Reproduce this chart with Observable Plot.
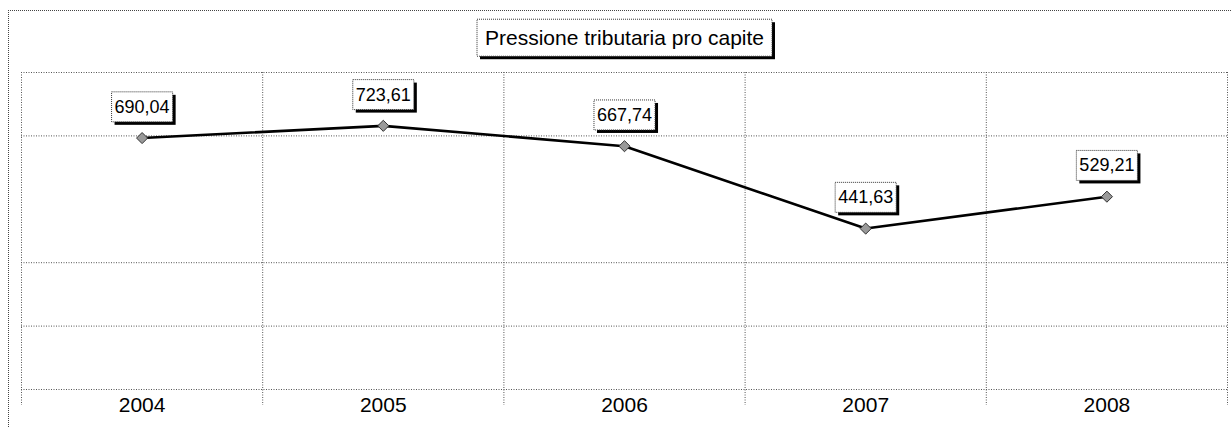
<!DOCTYPE html>
<html><head><meta charset="utf-8">
<script src="https://cdn.jsdelivr.net/npm/d3@7"></script>
<script src="https://cdn.jsdelivr.net/npm/@observablehq/plot@0.6"></script>
<style>
html,body{margin:0;padding:0;background:#fff;}
#wrap{position:relative;width:1231px;height:428px;overflow:hidden;}
#border{position:absolute;left:8px;top:10px;width:1240px;height:440px;border-left:1px dotted #444;border-top:1px dotted #444;pointer-events:none;}
</style></head><body><div id="wrap"></div>
<script>
const title = "Pressione tributaria pro capite";
const years = [2004, 2005, 2006, 2007, 2008];
const values = [690.04, 723.61, 667.74, 441.63, 529.21];
const labels = ["690,04", "723,61", "667,74", "441,63", "529,21"];
const yMax = 870;
const yGrid = [0, 174, 348, 696, 870];

const rows = years.map((year, i) => ({year, value: values[i], label: labels[i]}));
const bounds = years.map(y => y - 0.5).concat([years[years.length - 1] + 0.5]);
const gridStyle = {stroke: "#555", strokeDasharray: "1,1.5", strokeWidth: 1};

const chart = Plot.plot({
  width: 1231,
  height: 428,
  marginLeft: 21,
  marginRight: 4,
  marginTop: 72,
  marginBottom: 39,
  style: {fontFamily: "'Liberation Sans', Arial, sans-serif", fontSize: "21px", background: "white", color: "#000"},
  x: {domain: [years[0] - 0.5, years[years.length - 1] + 0.5], ticks: years, tickFormat: d => String(d), tickSize: 0, tickPadding: 8, label: null},
  y: {domain: [0, yMax], axis: null},
  marks: [
    Plot.ruleY(yGrid, gridStyle),
    Plot.ruleX(bounds, {...gridStyle, insetBottom: -16}),
    Plot.line(rows, {x: "year", y: "value", stroke: "#000", strokeWidth: 2.6}),
    Plot.dot(rows, {x: "year", y: "value", symbol: "diamond2", r: 5, fill: "#999", stroke: "#333", strokeWidth: 1}),
    Plot.text(rows, {x: "year", y: "value", text: "label", dy: -31, fontSize: 18, fill: "#000"}),
    Plot.text([title], {frameAnchor: "top", lineAnchor: "middle", dy: -34, fontSize: 21, fill: "#000"})
  ]
});

const wrap = document.getElementById("wrap");
wrap.appendChild(chart);
const border = document.createElement("div");
border.id = "border";
wrap.appendChild(border);

function boxify(texts, padX, padY, shadow) {
  chart.querySelectorAll("text").forEach(t => {
    if (!texts.includes(t.textContent)) return;
    const b = t.getBBox();
    const g = t.parentNode;
    const tr = t.getAttribute("transform");
    const mk = (dx, attrs) => {
      const r = document.createElementNS("http://www.w3.org/2000/svg", "rect");
      r.setAttribute("x", b.x - padX + dx);
      r.setAttribute("y", b.y - padY + dx);
      r.setAttribute("width", b.width + 2 * padX);
      r.setAttribute("height", b.height + 2 * padY);
      if (tr) r.setAttribute("transform", tr);
      for (const k in attrs) r.setAttribute(k, attrs[k]);
      g.insertBefore(r, t);
    };
    mk(shadow, {fill: "#000", stroke: "none"});
    mk(0, {fill: "#fff", stroke: "#333", "stroke-dasharray": "1,1", "stroke-width": 1});
  });
}
boxify(labels, 3, 5, 3);
boxify([title], 8, 7, 3);
</script>
</body></html>
